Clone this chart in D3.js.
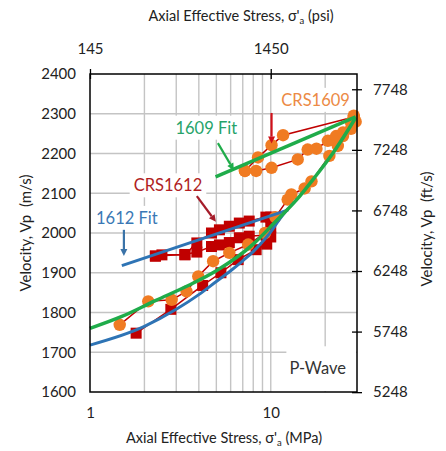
<!DOCTYPE html>
<html>
<head>
<meta charset="utf-8">
<script src="https://cdn.jsdelivr.net/npm/d3@7"></script>
<style>
  body { margin: 0; background: #fff; }
  text { font-family: Lato, "Noto Sans", sans-serif; }
</style>
</head>
<body>
<div id="chart"></div>
<script>
// stress in MPa, velocity in m/s
const crs1612Load = [[1.8,1748],[2.8,1808],[4.2,1868],[5.3,1900],[6.6,1933],[8.3,1958],[9.5,1972],[10,1990]];
const crs1612Unload = [[10,2040],[9.4,2040],[7.6,2030],[6.7,2025],[5.9,2017],[5.2,2008],[4.7,2000],[3.9,1975],[3.35,1945],[2.5,1945],[2.3,1942]];
const crs1612Reload = [[2.3,1942],[3.35,1946],[3.9,1952],[4.7,1966],[5.2,1970],[5.9,1976],[6.7,1988],[7.6,1992],[9.4,1995],[10,2015]];

const crs1609Load = [[1.46,1769],[2.1,1828],[2.83,1832],[3.42,1853],[3.97,1891],[4.8,1929],[5.9,1950],[7.5,1971],[9.3,2000],[10.6,2040],[12.4,2084],[13,2097],[15.4,2112],[16.8,2130],[21.1,2194],[23.5,2219],[25.1,2244],[27.8,2278],[28.8,2295]];
const crs1609Unload = [[28.8,2292],[11.7,2246],[10.1,2221],[8.5,2190],[7.2,2156]];
const crs1609Reload = [[7.2,2156],[8.3,2156],[10.1,2164],[14.1,2185],[16,2210],[17.9,2212],[20.7,2232],[23,2244],[25.1,2253],[27.8,2262],[29.5,2280]];

const fit1612Upper = [[1.5,1918],[12.5,2058]];
const fit1612Lower = [[1,1718],[2,1765],[3,1808],[4,1845],[5,1878],[6,1905],[7,1930],[8,1953],[9,1978],[10,2003],[11,2030],[12.5,2062]];
const fit1609Upper = [[4.95,2141],[29.5,2292]];
const fit1609Lower = [[1,1760],[1.5,1790],[2.3,1830],[3.5,1868],[5,1905],[8,1972],[10.7,2030],[13.8,2082],[17.5,2140],[22,2200],[29.5,2290]];

const yTicks = [1600,1700,1800,1900,2000,2100,2200,2300,2400];
const ftTicks = [5248,5748,6248,6748,7248,7748];
const xTicks = [1,10];
const psiTicks = [145,1450];
const xGrid = [2,3,4,5,6,7,8,9,10,20];

const W = 446, H = 451;
const L = 90, R = 357, T = 74, B = 392;

const svg = d3.select("#chart").append("svg")
    .attr("width", W)
    .attr("height", H)

const x = d3.scaleLog().domain([1, 30]).range([L, R]);
const xPsi = d3.scaleLog().domain([145.038, 30 * 145.038]).range([L, R]);
const y = d3.scaleLinear().domain([1600, 2400]).range([B, T]);
const yFt = d3.scaleLinear().domain([1600 * 3.28084, 2400 * 3.28084]).range([B, T]);

// grid
svg.append("g").selectAll("line").data(xGrid).join("line")
    .attr("x1", d => x(d)).attr("x2", d => x(d))
    .attr("y1", T).attr("y2", B)
    .attr("stroke", "#c4c4c4").attr("stroke-width", 1.4)
svg.append("g").selectAll("line").data(yTicks.slice(1, -1)).join("line")
    .attr("x1", L).attr("x2", R)
    .attr("y1", d => y(d)).attr("y2", d => y(d))
    .attr("stroke", "#c4c4c4").attr("stroke-width", 1.4)

// white label boxes hide the grid behind them
const boxes = svg.append("g")

const line = d3.line().x(d => x(d[0])).y(d => y(d[1]));
const smooth = d3.line().x(d => x(d[0])).y(d => y(d[1])).curve(d3.curveMonotoneX);

// measured data
const dataG = svg.append("g")
const red = "#c00000", orange = "#f07b22";

[crs1612Load, crs1612Unload, crs1612Reload, crs1609Load, crs1609Unload, crs1609Reload].forEach(s => {
    dataG.append("path").attr("d", line(s))
        .attr("fill", "none").attr("stroke", red).attr("stroke-width", 1.5)
})

const sq = 11;
dataG.selectAll(".sq").data([].concat(crs1612Load, crs1612Unload, crs1612Reload)).join("rect")
    .attr("class", "sq")
    .attr("x", d => x(d[0]) - sq / 2).attr("y", d => y(d[1]) - sq / 2)
    .attr("width", sq).attr("height", sq)
    .attr("fill", red)

dataG.selectAll(".dot").data([].concat(crs1609Load, crs1609Unload, crs1609Reload)).join("circle")
    .attr("class", "dot")
    .attr("cx", d => x(d[0])).attr("cy", d => y(d[1]))
    .attr("r", 6.2)
    .attr("fill", orange)

// fits
const blue = "#2e74b5", green = "#1fac4a";
svg.append("path").attr("d", line(fit1612Upper)).attr("fill", "none").attr("stroke", blue).attr("stroke-width", 3)
svg.append("path").attr("d", smooth(fit1612Lower)).attr("fill", "none").attr("stroke", blue).attr("stroke-width", 3)
svg.append("path").attr("d", line(fit1609Upper)).attr("fill", "none").attr("stroke", green).attr("stroke-width", 3.5)
svg.append("path").attr("d", smooth(fit1609Lower)).attr("fill", "none").attr("stroke", green).attr("stroke-width", 3.5)

// frame
svg.append("rect").attr("x", L).attr("y", T).attr("width", R - L).attr("height", B - T)
    .attr("fill", "none").attr("stroke", "#000").attr("stroke-width", 1.5)

// axes
const leftAxis = svg.append("g").attr("transform", `translate(${L},0)`)
    .call(d3.axisLeft(y).tickValues(yTicks).tickSize(0).tickPadding(14).tickFormat(d3.format("d")))
leftAxis.select(".domain").remove()

const bottomAxis = svg.append("g").attr("transform", `translate(0,${B})`)
    .call(d3.axisBottom(x).tickValues(xTicks).tickSize(0).tickPadding(15).tickFormat(d3.format("d")))
bottomAxis.select(".domain").remove()

const rightAxis = svg.append("g").attr("transform", `translate(${R},0)`)
    .call(d3.axisRight(yFt).tickValues(ftTicks).tickSize(5).tickPadding(11).tickFormat(d3.format("d")))
rightAxis.select(".domain").remove()
rightAxis.selectAll(".tick line").attr("x1", -5).attr("stroke-width", 1.3)

const topAxis = svg.append("g").attr("transform", `translate(0,${T})`)
    .call(d3.axisTop(xPsi).tickValues(psiTicks).tickSize(5).tickPadding(15).tickFormat(d3.format("d")))
topAxis.select(".domain").remove()
topAxis.selectAll(".tick line").attr("y1", 5).attr("stroke-width", 1.3)

svg.selectAll(".tick text").attr("font-size", 15).attr("fill", "#222")
    .style("font-family", "Lato, 'Noto Sans', sans-serif")

// axis titles
svg.append("text").attr("transform", `translate(31,${(T + B) / 2}) rotate(-90)`)
    .attr("text-anchor", "middle").attr("font-size", 15).attr("fill", "#222")
    .text("Velocity, Vp\u00a0\u00a0(m/s)")
svg.append("text").attr("transform", `translate(432,${(T + B) / 2 - 4}) rotate(-90)`)
    .attr("text-anchor", "middle").attr("font-size", 15).attr("fill", "#222")
    .text("Velocity, Vp\u00a0\u00a0(ft/s)")

function stressTitle(cx, cy, unit) {
    const t = svg.append("text").attr("x", cx).attr("y", cy)
        .attr("text-anchor", "middle").attr("font-size", 14.5).attr("fill", "#222")
    t.append("tspan").text("Axial Effective Stress, \u03c3'")
    t.append("tspan").attr("font-size", 9.5).attr("dy", 3).text("a")
    t.append("tspan").attr("dy", -3).text(" (" + unit + ")")
}
stressTitle(224, 443, "MPa")
stressTitle(241, 21, "psi")

// annotations
function label(txt, cx, cy, color, size) {
    const t = svg.append("text").attr("x", cx).attr("y", cy)
        .attr("text-anchor", "middle").attr("dominant-baseline", "central")
        .attr("font-size", size).attr("fill", color).text(txt)
    const b = t.node().getBBox()
    boxes.append("rect").attr("x", b.x - 4).attr("y", b.y - 2).attr("width", b.width + 8).attr("height", b.height + 4)
        .attr("fill", "#fff")
}
function arrow(x1, y1, x2, y2, color) {
    const a = Math.atan2(y2 - y1, x2 - x1), h = 7, w = 3.5;
    const bx = x2 - h * Math.cos(a), by = y2 - h * Math.sin(a);
    svg.append("line").attr("x1", x1).attr("y1", y1).attr("x2", bx).attr("y2", by)
        .attr("stroke", color).attr("stroke-width", 2.2)
    svg.append("path")
        .attr("d", `M${x2},${y2}L${bx - w * Math.sin(a)},${by + w * Math.cos(a)}L${bx + w * Math.sin(a)},${by - w * Math.cos(a)}Z`)
        .attr("fill", color)
}

label("CRS1609", x(17.7), y(2335), "#ec8a45", 16.5)
arrow(x(10.1), y(2302), x(10.1), y(2225), "#d0101a")

label("1609 Fit", x(4.4), y(2265), "#27a36a", 16.5)
arrow(x(5.1), y(2226), x(6.25), y(2158), "#1fac4a")

label("CRS1612", x(2.7), y(2120), "#b01e23", 16.5)
arrow(x(3.9), y(2093), x(4.97), y(2028), "#a51c2a")

label("1612 Fit", x(1.6), y(2038), "#3a78b5", 16.5)
arrow(x(1.54), y(2008), x(1.54), y(1942), "#3a73a8")

// P-Wave box
boxes.append("rect").attr("x", x(12.2)).attr("y", y(1715)).attr("width", R - x(12.2) - 1).attr("height", B - y(1715) - 1)
    .attr("fill", "#fff")
svg.append("text").attr("x", x(18.2)).attr("y", y(1660)).attr("text-anchor", "middle")
    .attr("dominant-baseline", "central").attr("font-size", 16.5).attr("fill", "#333").text("P-Wave")
</script>
</body>
</html>
